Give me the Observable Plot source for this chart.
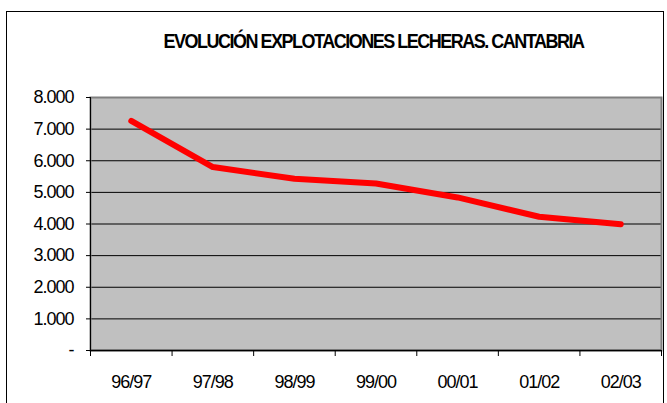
<!DOCTYPE html>
<html>
<head>
<meta charset="utf-8">
<script src="https://cdn.jsdelivr.net/npm/d3@7"></script>
<script src="https://cdn.jsdelivr.net/npm/@observablehq/plot@0.6"></script>
<style>
  html, body { margin: 0; padding: 0; background: #fff; }
  body { width: 667px; height: 403px; overflow: hidden; position: relative; }
  #border { position: absolute; left: 6px; top: 11px; width: 658px; height: 430px; border: 1px solid #000; box-sizing: border-box; }
  #title { position: absolute; left: 0; top: 31px; width: 747px; text-align: center; font-family: "Liberation Sans", Arial, sans-serif; font-weight: bold; font-size: 18px; letter-spacing: -1.5px; color: #000; white-space: nowrap; transform: scaleY(1.1); }
  #chart { position: absolute; left: 0; top: 0; }
  #chart svg text { letter-spacing: -1px; }
</style>
</head>
<body>
<div id="border"></div>
<div id="chart"></div>
<div id="title">EVOLUCIÓN EXPLOTACIONES LECHERAS. CANTABRIA</div>
<script>
const categories = ["96/97", "97/98", "98/99", "99/00", "00/01", "01/02", "02/03"];
const explotaciones = [7260, 5800, 5430, 5280, 4840, 4230, 3990];
const yTicks = [0, 1000, 2000, 3000, 4000, 5000, 6000, 7000, 8000];

const fmtY = d => d === 0 ? "-" : d3.format(",")(d).replace(/,/g, ".");
const idx = d3.range(categories.length);
const bounds = d3.range(categories.length + 1).map(i => i - 0.5);

const chart = Plot.plot({
  width: 667,
  height: 403,
  marginLeft: 90,
  marginRight: 6,
  marginTop: 97,
  marginBottom: 53,
  style: { fontFamily: "'Liberation Sans', Arial, sans-serif", fontSize: "18px", background: "transparent", color: "#000" },
  x: { type: "linear", domain: [-0.5, categories.length - 0.5] },
  y: { domain: [0, 8000] },
  marks: [
    Plot.frame({ fill: "#c0c0c0" }),
    Plot.ruleY(yTicks.slice(1, -1), { stroke: "#000", strokeWidth: 1 }),
    Plot.frame({ stroke: "#808080", strokeWidth: 2 }),
    Plot.ruleX([-0.5], { stroke: "#000", strokeWidth: 1 }),
    Plot.ruleY([0], { stroke: "#000", strokeWidth: 1.5 }),
    Plot.axisY({ ticks: yTicks, tickSize: 4, tickPadding: 13, tickFormat: fmtY, label: null }),
    Plot.axisX({ ticks: idx, tickSize: 0, tickPadding: 25, tickFormat: i => categories[i], label: null }),
    Plot.axisX({ ticks: bounds, tickSize: 6, tickFormat: () => "", label: null }),
    Plot.line(explotaciones, {
      x: (d, i) => i,
      y: d => d,
      stroke: "#ff0000",
      strokeWidth: 6,
      strokeLinejoin: "round",
      strokeLinecap: "round"
    })
  ]
});
document.getElementById("chart").appendChild(chart);
</script>
</body>
</html>
